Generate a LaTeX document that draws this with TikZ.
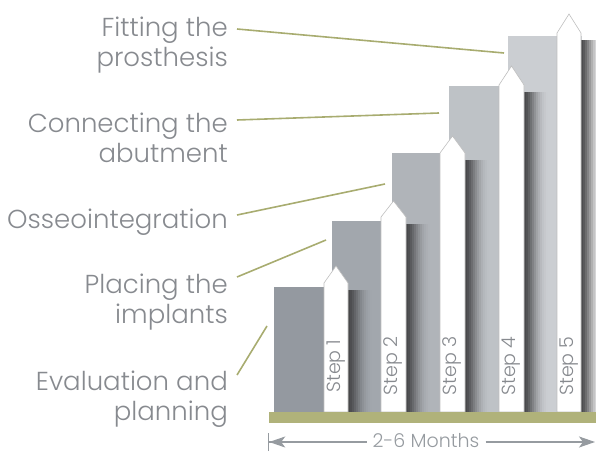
\documentclass[tikz,border=0pt]{standalone}
\usepackage{fontspec}
\setmainfont{Poppins}[UprightFont=* Light]
\usetikzlibrary{arrows.meta}

\definecolor{textgray}{RGB}{135,138,143}
\definecolor{dimgray}{RGB}{150,155,160}
\definecolor{leadgreen}{RGB}{168,172,112}
\definecolor{basegreen}{RGB}{176,178,122}
\definecolor{shadowgray}{RGB}{66,66,68}
\definecolor{barA}{RGB}{148,153,160}
\definecolor{barB}{RGB}{162,167,173}
\definecolor{barC}{RGB}{176,180,185}
\definecolor{barD}{RGB}{190,194,198}
\definecolor{barE}{RGB}{203,206,210}

% soft shadow strip right of a step: #1 = left x, #2 = top y, #3 = colour behind
\newcommand{\stepshade}[3]{%
  \foreach \k/\p in {0/95,1/88,2/78,3/66,4/54,5/42,6/31,7/22,8/14,9/8,10/4,11/1}
    \fill[shadowgray!\p!#3] ({#1+2*\k},#2) rectangle ({#1+2*\k+2.2},412);%
}

\begin{document}
\begin{tikzpicture}[
  x=1pt, y=-1pt,
  stage/.style={anchor=base east, align=right, text=textgray, inner xsep=9pt, inner ysep=0pt, font=\fontsize{26}{30}\selectfont},
  stepbar/.style={anchor=south west, inner sep=0pt, minimum width=74pt},
  steparrow/.style={fill=white, draw=black!25, line width=0.6pt},
  steptxt/.style={rotate=90, text=textgray, font=\fontsize{19}{20}\selectfont},
  leader/.style={draw=leadgreen, line width=1.6pt},
  dimline/.style={draw=dimgray, line width=1.2pt}
]
\useasboundingbox (0,0) rectangle (596,454);

% Grey columns
\node[stepbar, fill=barA, minimum height=125pt] (bar1) at (274,412) {};
\node[stepbar, fill=barB, minimum height=191pt] (bar2) at (332,412) {};
\node[stepbar, fill=barC, minimum height=259pt] (bar3) at (392,412) {};
\node[stepbar, fill=barD, minimum height=326pt] (bar4) at (449,412) {};
\node[stepbar, fill=barE, minimum height=376pt] (bar5) at (508,412) {};

% Shadows behind the arrows
\stepshade{348}{290}{barB}
\stepshade{406}{224}{barC}
\stepshade{465}{160}{barD}
\stepshade{524}{92}{barE}
\stepshade{581}{40}{white}

% White step arrows
\draw[steparrow] (324,412) -- (324,283) -- (336,266) -- (348,283) -- (348,412) -- cycle;
\draw[steparrow] (381,412) -- (381,217) -- (393.5,201) -- (406,217) -- (406,412) -- cycle;
\draw[steparrow] (440,412) -- (440,153) -- (452.5,136) -- (465,153) -- (465,412) -- cycle;
\draw[steparrow] (499,412) -- (499,85) -- (511.5,66) -- (524,85) -- (524,412) -- cycle;
\draw[steparrow] (557,412) -- (557,33) -- (569,14) -- (581,33) -- (581,412) -- cycle;

\node[steptxt] (s1) at (336,366) {Step 1};
\node[steptxt] (s2) at (393.5,366) {Step 2};
\node[steptxt] (s3) at (452.5,366) {Step 3};
\node[steptxt] (s4) at (511.5,366) {Step 4};
\node[steptxt] (s5) at (569,366) {Step 5};

% Ground bar
\fill[basegreen] (269,412) rectangle (596,423);

% Stage labels (anchored at the baseline of the last line)
\node[stage] (fit) at (237,67) {Fitting the\\prosthesis};
\node[stage] (conn) at (237,163) {Connecting the\\abutment};
\node[stage] (osseo) at (237,228) {Osseointegration};
\node[stage] (place) at (237,323) {Placing the\\implants};
\node[stage] (eval) at (237,420) {Evaluation and\\planning};

\coordinate (fit-end) at (504,53);
\coordinate (conn-end) at (439,113);
\coordinate (osseo-end) at (385,184);
\coordinate (place-end) at (326,240);
\coordinate (eval-end) at (267,326);

\draw[leader] ([yshift=38pt]fit.base east) -- (fit-end);
\draw[leader] ([yshift=43pt]conn.base east) -- (conn-end);
\draw[leader] ([yshift=13pt]osseo.base east) -- (osseo-end);
\draw[leader] ([yshift=46pt]place.base east) -- (place-end);
\draw[leader] ([yshift=45pt]eval.base east) -- (eval-end);

% Time span
\node[text=dimgray, inner xsep=6pt, inner ysep=0pt, font=\fontsize{19}{20}\selectfont] (span) at (426,441) {2-6 Months};
\coordinate (spanL) at (268,442);
\coordinate (spanR) at (595,442);
\draw[dimline, {Bar[width=18pt]Stealth[length=16pt,width=11pt,inset=4pt]}-] (spanL) -- (spanL -| span.west);
\draw[dimline, -{Stealth[length=16pt,width=11pt,inset=4pt]}] (spanR -| span.east) -- (spanR);

\end{tikzpicture}
\end{document}
